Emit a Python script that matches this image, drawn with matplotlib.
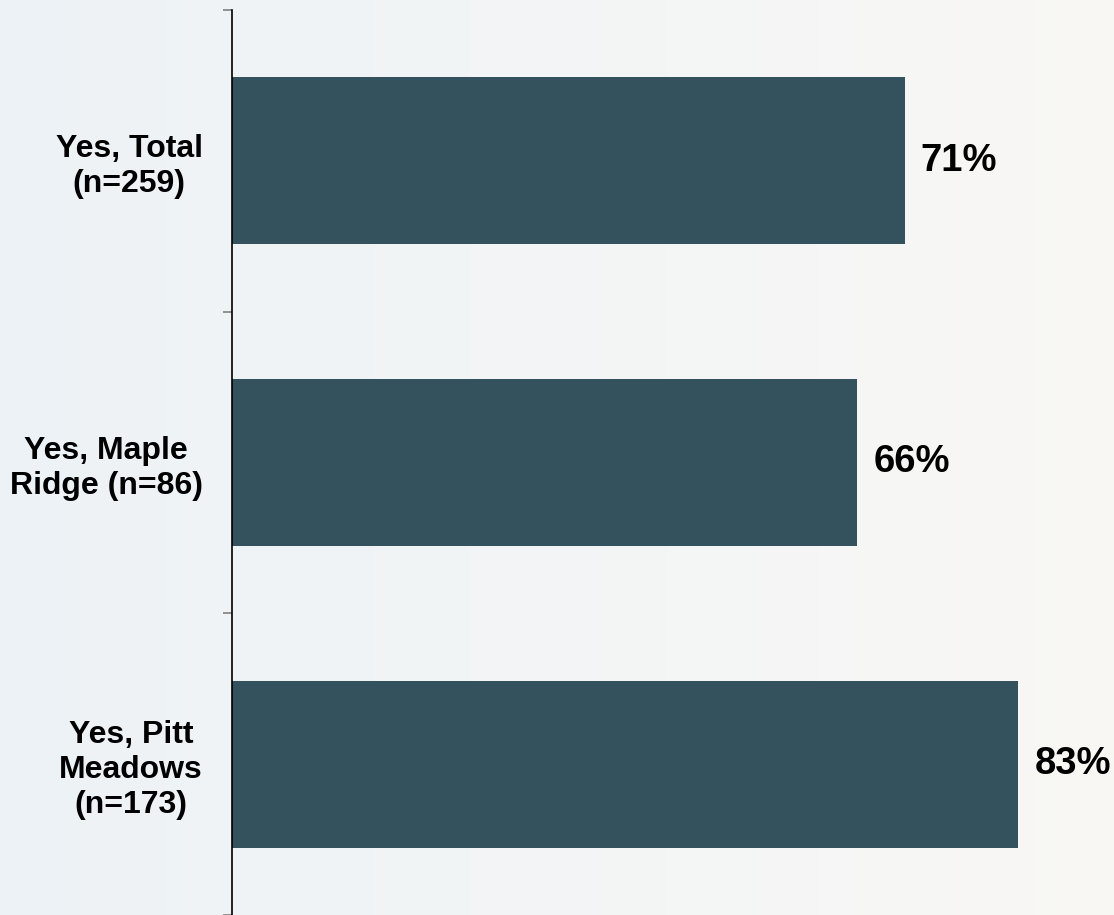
import numpy as np
import matplotlib.pyplot as plt

categories = ["Yes, Total\n(n=259)", "Yes, Maple\nRidge (n=86)", "Yes, Pitt\nMeadows\n(n=173)"]
values = [71, 66, 83]

plt.rcParams['font.family'] = ['Liberation Sans', 'DejaVu Sans']

fig = plt.figure(figsize=(11.14, 9.15), dpi=100)

# soft background wash: cool on the left, warm on the right
bg = fig.add_axes([0, 0, 1, 1], zorder=-1)
grad = np.linspace(0, 1, 256)
c_left = np.array([0.93, 0.95, 0.965])
c_right = np.array([0.975, 0.97, 0.96])
img = c_left[None, :] * (1 - grad[:, None]) + c_right[None, :] * grad[:, None]
bg.imshow(img[None, :, :], aspect='auto', extent=[0, 1, 0, 1])
bg.axis('off')

ax = fig.add_axes([232 / 1114, 0, 1 - 232 / 1114, 905 / 915])
ax.patch.set_alpha(0)

y = np.arange(len(categories))
ax.barh(y, values, height=0.553, color='#34525e')

for yi, v in zip(y, values):
    ax.text(v + 1.7, yi, f"{v}%", va='center', ha='left',
            fontsize=27.5, fontweight='bold')

ax.set_ylim(len(categories) - 0.5, -0.5)
ax.set_xlim(0, 93.1)
ax.set_yticks(y)
ax.set_yticklabels(categories, fontsize=23, fontweight='bold',
                   multialignment='center')
ax.tick_params(axis='y', which='major', length=0, pad=21)
ax.set_yticks(np.arange(len(categories) + 1) - 0.5, minor=True)
ax.tick_params(axis='y', which='minor', length=6.5, color='#808080', width=1.2)
ax.set_xticks([])

for s in ['top', 'right', 'bottom']:
    ax.spines[s].set_visible(False)
ax.spines['left'].set_linewidth(1.2)

fig.savefig("out.png", dpi=100)
